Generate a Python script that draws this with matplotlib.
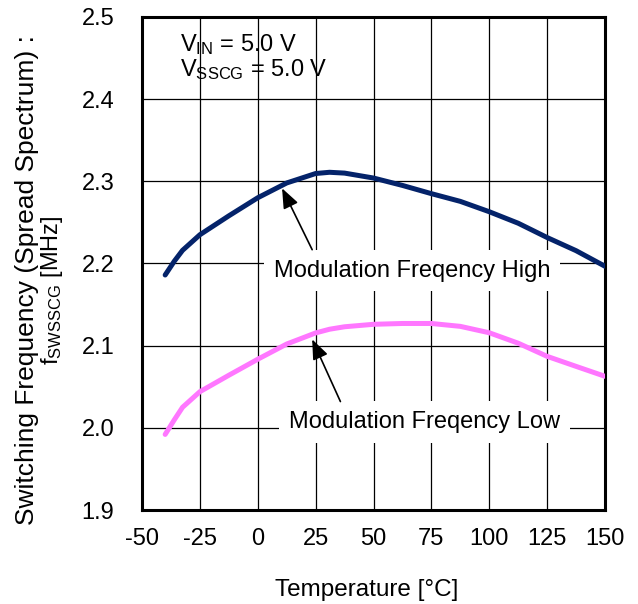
import matplotlib.pyplot as plt

plt.rcParams['font.family'] = ['Liberation Sans', 'DejaVu Sans']
plt.rcParams['mathtext.fontset'] = 'custom'
plt.rcParams['mathtext.rm'] = 'Liberation Sans'
plt.rcParams['axes.unicode_minus'] = False

# Temperature [degC]
temp = [-40, -36, -32.5, -25, -12.5, 0, 12.5, 25, 31, 37.5, 50, 62.5, 75, 87.5, 100, 112.5, 125, 137.5, 150]
# Modulation frequency high [MHz]
freq_high = [2.186, 2.203, 2.216, 2.235, 2.258, 2.280, 2.298, 2.3095, 2.311, 2.310, 2.304, 2.295,
             2.285, 2.2756, 2.263, 2.249, 2.2316, 2.2156, 2.1966]
# Modulation frequency low [MHz]
freq_low = [1.992, 2.010, 2.025, 2.044, 2.064, 2.0835, 2.102, 2.1155, 2.120, 2.123, 2.126, 2.127,
            2.127, 2.1235, 2.1157, 2.103, 2.087, 2.0748, 2.0627]

x_ticks = [-50, -25, 0, 25, 50, 75, 100, 125, 150]
y_ticks = [1.9, 2.0, 2.1, 2.2, 2.3, 2.4, 2.5]

fs = 17

fig = plt.figure(figsize=(6.38, 6.04), dpi=100)
ax = fig.add_axes([0.2226, 0.1556, 0.7257, 0.8163])

ax.plot(temp, freq_high, color='#04236a', lw=3.6, solid_capstyle='round', zorder=3)
ax.plot(temp, freq_low, color='#ff77ff', lw=3.6, solid_capstyle='round', zorder=3)

ax.set_xlim(-50, 150)
ax.set_ylim(1.9, 2.5)
ax.set_xticks(x_ticks)
ax.set_yticks(y_ticks)
ax.set_yticklabels([f'{v:.1f}' for v in y_ticks])
ax.tick_params(length=0, labelsize=fs)
ax.tick_params(axis='y', pad=20)
ax.tick_params(axis='x', pad=13)
ax.grid(True, color='black', lw=0.9)
ax.set_axisbelow(True)
for s in ax.spines.values():
    s.set_linewidth(2.2)

# Axis titles
fig.text(367 / 638, 1 - 590 / 604, 'Temperature [°C]', fontsize=17.5, ha='center', va='center')
fig.text(27 / 638, 1 - 280 / 604, 'Switching Frequency (Spread Spectrum) :',
         fontsize=19, rotation=90, ha='center', va='center')
fig.text(52 / 638, 1 - 290 / 604, '$\\mathregular{f_{SWSSCG}}$ [MHz]',
         fontsize=17, rotation=90, ha='center', va='center')

# Condition text
ax.text(-33.5, 2.467, '$\\mathregular{V_{IN}}$ = 5.0 V', fontsize=fs, va='center', ha='left')
ax.text(-33.5, 2.4355, '$\\mathregular{V_{SSCG}}$ = 5.0 V', fontsize=fs, va='center', ha='left')

# Labels with arrows
box = dict(facecolor='white', edgecolor='none', pad=7)
ax.text(66.75, 2.184, 'Modulation Freqency High', fontsize=fs, ha='center', va='baseline',
        bbox=box, zorder=4)
ax.text(72.0, 2.0, 'Modulation Freqency Low', fontsize=fs, ha='center', va='baseline',
        bbox=box, zorder=4)

arrow = dict(arrowstyle='-|>,head_length=0.55,head_width=0.22', color='black', lw=1.2,
             mutation_scale=22, shrinkA=0, shrinkB=0)
ax.annotate('', xy=(10.5, 2.2915), xytext=(23.5, 2.2168), arrowprops=arrow, zorder=5)
ax.annotate('', xy=(23.5, 2.1077), xytext=(35.7, 2.032), arrowprops=arrow, zorder=5)

fig.savefig('out.png', dpi=100)
